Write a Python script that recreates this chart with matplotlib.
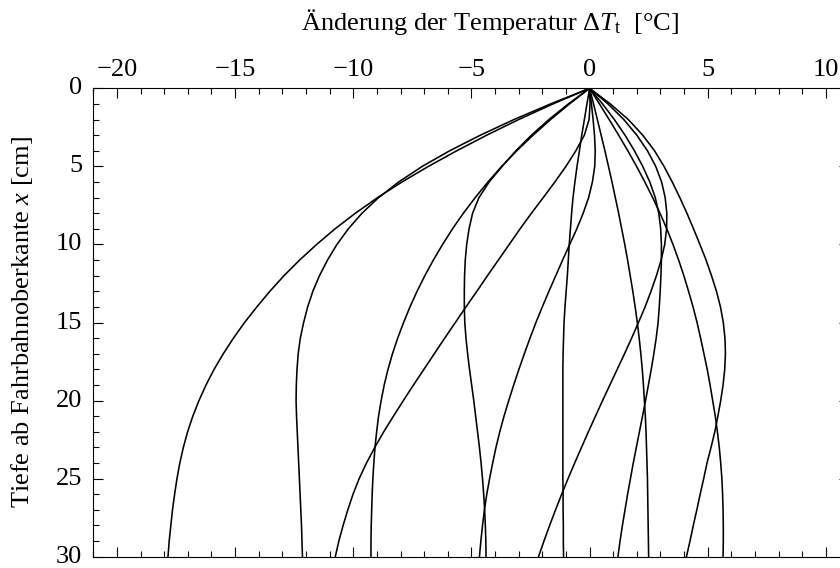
import numpy as np
import matplotlib
matplotlib.use("Agg")
import matplotlib.pyplot as plt
from matplotlib.ticker import MultipleLocator

plt.rcParams["font.family"] = ["Liberation Serif", "DejaVu Serif"]
plt.rcParams["mathtext.fontset"] = "custom"
plt.rcParams["mathtext.rm"] = "Liberation Serif"
plt.rcParams["mathtext.it"] = "Liberation Serif:italic"
plt.rcParams["axes.unicode_minus"] = True

# depth below the road surface [cm], 1 cm steps
depth = list(range(0, 31))

# temperature change profiles [°C] at the depths above
dT_1 = [0, -1.55, -3.0, -4.35, -5.62, -6.82, -7.94, -8.97, -9.91, -10.77, -11.55, -12.27, -12.93, -13.53, -14.08,
        -14.6, -15.07, -15.5, -15.89, -16.23, -16.53, -16.79, -17.01, -17.19, -17.34, -17.46, -17.56, -17.65, -17.72, -17.79, -17.84]
dT_2 = [0, -1.65, -3.2, -4.62, -5.92, -7.08, -8.08, -8.93, -9.63, -10.21, -10.69, -11.09, -11.43, -11.71, -11.93,
        -12.1, -12.24, -12.33, -12.38, -12.41, -12.42, -12.4, -12.37, -12.34, -12.31, -12.28, -12.25, -12.22, -12.19, -12.17, -12.15]
dT_3 = [0, 0.02, -0.02, -0.22, -0.58, -1.0, -1.47, -1.96, -2.46, -2.94, -3.4, -3.86, -4.32, -4.77, -5.23,
        -5.68, -6.13, -6.57, -7.01, -7.45, -7.88, -8.3, -8.71, -9.09, -9.44, -9.75, -10.01, -10.23, -10.43, -10.61, -10.76]
dT_4 = [0, -0.85, -1.65, -2.39, -3.08, -3.72, -4.3, -4.84, -5.34, -5.8, -6.22, -6.61, -6.97, -7.3, -7.6,
        -7.87, -8.12, -8.34, -8.53, -8.69, -8.82, -8.93, -9.01, -9.08, -9.13, -9.17, -9.2, -9.22, -9.24, -9.25, -9.25]
dT_5 = [0, 0.08, 0.15, 0.21, 0.24, 0.22, 0.12, -0.04, -0.27, -0.54, -0.84, -1.14, -1.43, -1.72, -2.0,
        -2.27, -2.52, -2.76, -2.99, -3.21, -3.42, -3.62, -3.8, -3.96, -4.1, -4.23, -4.35, -4.45, -4.53, -4.6, -4.66]
dT_6 = [0, -0.9, -1.72, -2.46, -3.12, -3.7, -4.25, -4.68, -4.95, -5.1, -5.2, -5.26, -5.29, -5.3, -5.3,
        -5.28, -5.23, -5.16, -5.08, -4.99, -4.9, -4.82, -4.74, -4.66, -4.59, -4.53, -4.48, -4.44, -4.41, -4.39, -4.38]
dT_7 = [0, 0.78, 1.45, 2.0, 2.45, 2.8, 3.05, 3.2, 3.27, 3.26, 3.18, 3.03, 2.83, 2.6, 2.35,
        2.07, 1.78, 1.48, 1.17, 0.86, 0.55, 0.25, -0.05, -0.34, -0.63, -0.91, -1.18, -1.44, -1.69, -1.93, -2.16]
dT_8 = [0, -0.11, -0.22, -0.33, -0.43, -0.53, -0.62, -0.7, -0.76, -0.81, -0.86, -0.9, -0.94, -0.99, -1.04,
        -1.08, -1.1, -1.12, -1.13, -1.13, -1.13, -1.13, -1.13, -1.13, -1.13, -1.13, -1.12, -1.12, -1.11, -1.11, -1.1]
dT_9 = [0, 0.55, 1.05, 1.5, 1.9, 2.25, 2.55, 2.78, 2.93, 3.01, 3.04, 3.04, 3.02, 2.99, 2.95,
        2.9, 2.82, 2.72, 2.61, 2.49, 2.37, 2.24, 2.11, 1.98, 1.85, 1.73, 1.61, 1.5, 1.39, 1.29, 1.2]
dT_10 = [0, 0.17, 0.33, 0.49, 0.65, 0.8, 0.95, 1.09, 1.23, 1.36, 1.49, 1.61, 1.72, 1.83, 1.93,
         2.02, 2.1, 2.17, 2.23, 2.28, 2.32, 2.36, 2.39, 2.41, 2.43, 2.45, 2.46, 2.47, 2.48, 2.49, 2.5]
dT_11 = [0, 0.88, 1.64, 2.25, 2.75, 3.15, 3.5, 3.82, 4.12, 4.4, 4.67, 4.93, 5.16, 5.37, 5.54,
         5.66, 5.73, 5.75, 5.72, 5.65, 5.55, 5.43, 5.3, 5.14, 4.97, 4.83, 4.68, 4.54, 4.39, 4.25, 4.1]
dT_12 = [0, 0.42, 0.83, 1.23, 1.62, 1.99, 2.34, 2.67, 2.98, 3.27, 3.53, 3.77, 3.99, 4.19, 4.38,
         4.55, 4.7, 4.84, 4.98, 5.1, 5.21, 5.32, 5.41, 5.49, 5.55, 5.6, 5.63, 5.65, 5.66, 5.66, 5.65]

profiles = [dT_1, dT_2, dT_3, dT_4, dT_5, dT_6, dT_7, dT_8, dT_9, dT_10, dT_11, dT_12]

x_ticks = [-20, -15, -10, -5, 0, 5, 10]
y_ticks = [0, 5, 10, 15, 20, 25, 30]

fig = plt.figure(figsize=(8.4, 5.68), dpi=100)
ax = fig.add_axes([0.1111, 0.0199, 0.9002, 0.8246])

for prof in profiles:
    ax.plot(prof, depth, color="black", lw=1.15, solid_joinstyle="round", solid_capstyle="round")

ax.set_xlim(-21, 11)
ax.set_ylim(30, 0)
ax.set_xticks(x_ticks)
ax.set_yticks(y_ticks)
ax.xaxis.set_minor_locator(MultipleLocator(1))
ax.yaxis.set_minor_locator(MultipleLocator(1))

ax.tick_params(which="both", direction="in", top=True, bottom=True, left=True, right=True,
               labeltop=True, labelbottom=False, labelleft=True, labelright=False,
               width=0.8, labelsize=19)
ax.tick_params(which="major", length=7.2)
ax.tick_params(which="minor", length=4.0)
ax.tick_params(axis="x", which="major", pad=5)
ax.tick_params(axis="y", which="major", pad=8)
for lab in ax.get_yticklabels():
    lab.set_verticalalignment("center")
for sp in ax.spines.values():
    sp.set_linewidth(0.8)

ax.set_xlabel(r"Änderung der Temperatur $\Delta T_\mathrm{t}$  [°C]", fontsize=19, va="center")
ax.xaxis.set_label_position("top")
ax.xaxis.set_label_coords(0.5246, 1.1245)
ax.set_ylabel(r"Tiefe ab Fahrbahnoberkante $x$ [cm]", fontsize=19, va="center")
ax.yaxis.set_label_coords(-0.0943, 0.5)

fig.savefig("out.png", dpi=100)
